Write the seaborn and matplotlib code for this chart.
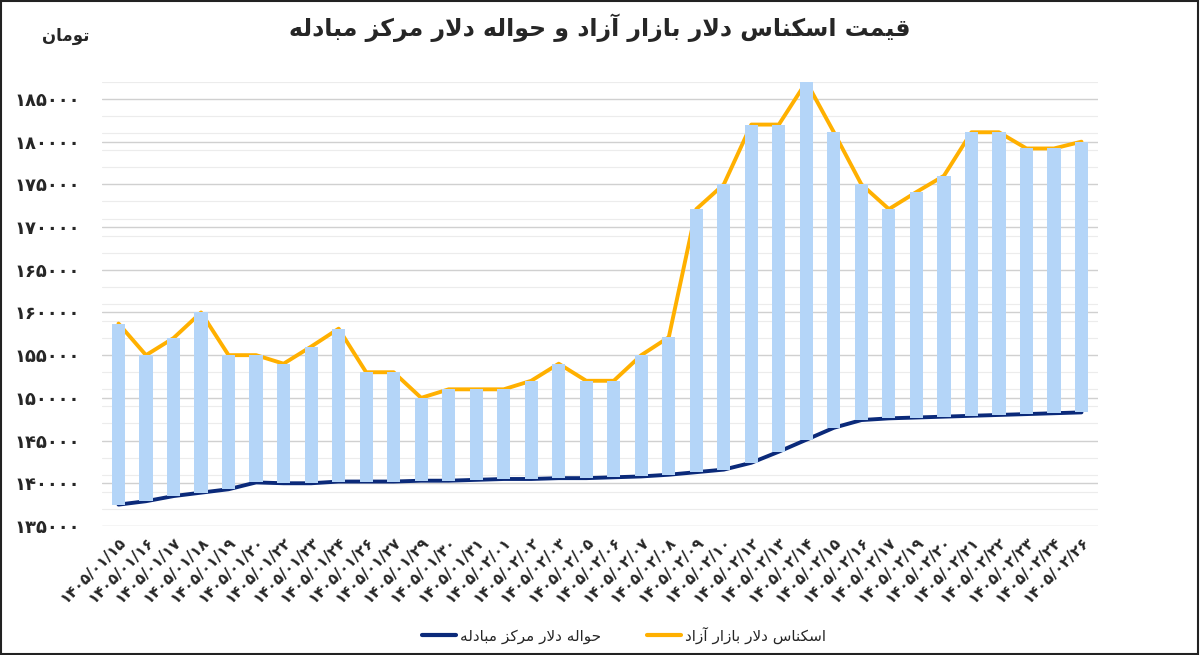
import matplotlib
matplotlib.use("Agg")
import matplotlib.pyplot as plt
import seaborn as sns
import pandas as pd
import numpy as np
from matplotlib.lines import Line2D
from matplotlib.patches import Rectangle

dates = ["1405/01/15","1405/01/16","1405/01/17","1405/01/18","1405/01/19","1405/01/20",
         "1405/01/22","1405/01/23","1405/01/24","1405/01/26","1405/01/27","1405/01/29",
         "1405/01/30","1405/01/31","1405/02/01","1405/02/02","1405/02/03","1405/02/05",
         "1405/02/06","1405/02/07","1405/02/08","1405/02/09","1405/02/10","1405/02/12",
         "1405/02/13","1405/02/14","1405/02/15","1405/02/16","1405/02/17","1405/02/19",
         "1405/02/20","1405/02/21","1405/02/22","1405/02/23","1405/02/24","1405/02/26"]
free_market = [158700,155000,157000,160000,155000,155000,154000,156000,158100,153000,
               153000,150000,151000,151000,151000,152000,154000,152000,152000,155000,
               157100,172100,175000,182000,182000,187000,181100,175000,172100,174100,
               176000,181100,181100,179200,179200,180000]
hawala = [137500,137900,138500,138900,139300,140100,140000,140000,140200,140200,
          140200,140300,140300,140400,140500,140500,140600,140600,140700,140800,
          141000,141300,141600,142400,143700,145100,146500,147400,147600,147700,
          147800,147900,148000,148100,148200,148300]
title_txt = "قیمت اسکناس دلار بازار آزاد و حواله دلار مرکز مبادله"
unit_txt = "تومان"
lbl_hawala = "حواله دلار مرکز مبادله"
lbl_free = "اسکناس دلار بازار آزاد"

FORMS = {
    'ا': ('\uFE8D','\uFE8E',None,None), 'آ': ('\uFE81','\uFE82',None,None),
    'د': ('\uFEA9','\uFEAA',None,None), 'ر': ('\uFEAD','\uFEAE',None,None),
    'ز': ('\uFEAF','\uFEB0',None,None), 'و': ('\uFEED','\uFEEE',None,None),
    'ب': ('\uFE8F','\uFE90','\uFE91','\uFE92'), 'ت': ('\uFE95','\uFE96','\uFE97','\uFE98'),
    'ح': ('\uFEA1','\uFEA2','\uFEA3','\uFEA4'), 'س': ('\uFEB1','\uFEB2','\uFEB3','\uFEB4'),
    'ق': ('\uFED5','\uFED6','\uFED7','\uFED8'), 'ک': ('\uFB8E','\uFB8F','\uFB90','\uFB91'),
    'ل': ('\uFEDD','\uFEDE','\uFEDF','\uFEE0'), 'م': ('\uFEE1','\uFEE2','\uFEE3','\uFEE4'),
    'ن': ('\uFEE5','\uFEE6','\uFEE7','\uFEE8'), 'ه': ('\uFEE9','\uFEEA','\uFEEB','\uFEEC'),
    'ی': ('\uFBFC','\uFBFD','\uFBFE','\uFBFF'),
}
def dual(c):
    return c in FORMS and FORMS[c][2] is not None

def shape(s):
    out = []
    i = 0
    n = len(s)
    while i < n:
        c = s[i]
        if c not in FORMS:
            out.append(c); i += 1; continue
        prev = s[i-1] if i > 0 else ''
        jp = dual(prev)
        if c == 'ل' and i+1 < n and s[i+1] in ('ا','آ'):
            if s[i+1] == 'ا':
                out.append('\uFEFC' if jp else '\uFEFB')
            else:
                out.append('\uFEF6' if jp else '\uFEF5')
            i += 2; continue
        nxt = s[i+1] if i+1 < n else ''
        jn = dual(c) and nxt in FORMS
        iso, fin, ini, med = FORMS[c]
        if jp and jn: out.append(med)
        elif jp: out.append(fin)
        elif jn: out.append(ini)
        else: out.append(iso)
        i += 1
    return ''.join(out)[::-1]

def fa_digits(s):
    return s.translate(str.maketrans("0123456789", "۰۱۲۳۴۵۶۷۸۹"))

sns.set_theme(style="white")
plt.rcParams['font.family'] = ['DejaVu Sans']

df = pd.DataFrame({"date": dates, "free": free_market, "hawala": hawala})
df["x"] = np.arange(len(df))
df["diff"] = df["free"] - df["hawala"]

fig = plt.figure(figsize=(12, 6.55), dpi=100)
ax = fig.add_axes([0.085, 0.197, 0.83, 0.678])

sns.lineplot(data=df, x="x", y="hawala", ax=ax, color="#0b2a7a", lw=2.8, zorder=3)
sns.lineplot(data=df, x="x", y="free", ax=ax, color="#ffb000", lw=2.8, zorder=3)
ax.bar(df["x"], df["diff"], bottom=df["hawala"], width=0.48, color="#b4d5f8",
       linewidth=0, edgecolor="none", zorder=4)

ax.set_ylim(135000, 187000)
ax.set_xlim(-0.6, len(df) - 0.4)
ax.set_yticks(np.arange(135000, 185001, 5000))
ax.set_yticks(np.arange(135000, 187001, 2000), minor=True)
ax.set_yticklabels([fa_digits(str(v)) for v in range(135000, 185001, 5000)],
                   fontsize=13, fontweight='bold')
ax.yaxis.grid(True, which='major', color="#d0d0d0", lw=1, zorder=0)
ax.yaxis.grid(True, which='minor', color="#ececec", lw=0.8, zorder=0)
ax.tick_params(axis='y', which='both', length=0, pad=16)
ax.set_xticks(df["x"])
ax.set_xticklabels([fa_digits(d) for d in dates], rotation=45, ha='right',
                   rotation_mode='anchor', fontsize=11, fontweight='bold')
ax.tick_params(axis='x', length=0, pad=6)
ax.set_xlabel(""); ax.set_ylabel("")
for sp in ax.spines.values():
    sp.set_visible(False)

fig.text(0.5, 0.957, shape(title_txt), ha='center', va='center', fontsize=17, fontweight='bold')
fig.text(0.055, 0.945, shape(unit_txt), ha='center', va='center', fontsize=12, fontweight='bold')

handles = [Line2D([], [], color="#0b2a7a", lw=3), Line2D([], [], color="#ffb000", lw=3)]
fig.legend(handles, [shape(lbl_hawala), shape(lbl_free)], loc='center',
           bbox_to_anchor=(0.52, 0.03), ncol=2, frameon=False, fontsize=11,
           handlelength=2.2, columnspacing=3, handletextpad=0.3)

fig.patches.append(Rectangle((0.001, 0.002), 0.997, 0.996, transform=fig.transFigure,
                             fill=False, edgecolor="#222222", lw=1.5))
fig.savefig("out.png", dpi=100)
